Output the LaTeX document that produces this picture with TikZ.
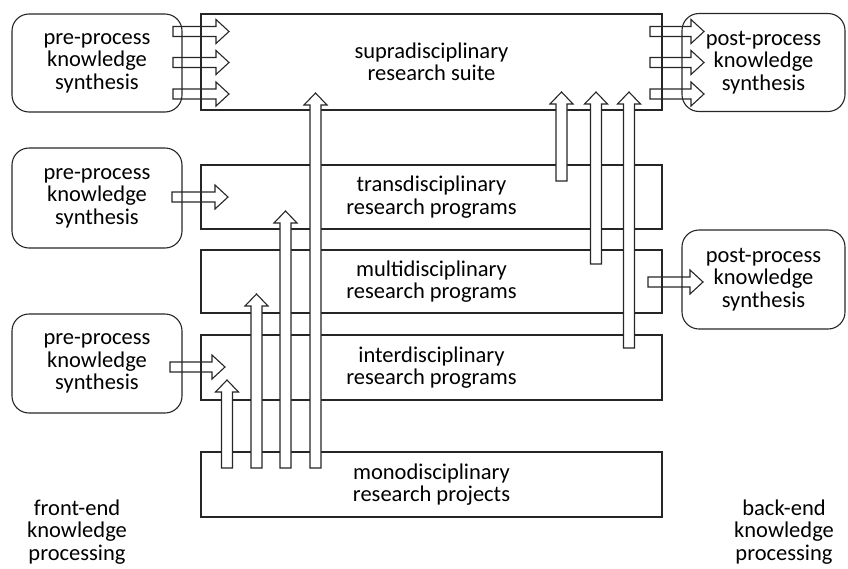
\documentclass[tikz,border=0pt]{standalone}
\usepackage{fontspec}
\setmainfont{Carlito}
\usetikzlibrary{calc}

\tikzset{
	ebene/.style={
		draw=black!85,
		line width=1.1pt,
		minimum width=461pt,
		align=center,
		inner sep=0pt
	},
	synthese/.style={
		draw=black!85,
		line width=1.1pt,
		rounded corners=17pt,
		align=center,
		inner sep=0pt
	},
	hpfeil/.style={
		draw=black!85,
		line width=1.1pt
	},
	vpfeil/.style={
		draw=black!85,
		line width=1.1pt,
		fill=white
	}
}

% Blockpfeil nach rechts
\newcommand{\pfeilrechts}[2]{%
	\draw[hpfeil] let \p1=(#1), \p2=(#2) in
		(\x1,\y1-5pt) -- (\x2-13pt,\y1-5pt) -- (\x2-13pt,\y1-12pt) -- (\x2,\y1) --
		(\x2-13pt,\y1+12pt) -- (\x2-13pt,\y1+5pt) -- (\x1,\y1+5pt) -- cycle;
}
% Blockpfeil nach oben
\newcommand{\pfeilhoch}[2]{%
	\draw[vpfeil] let \p1=(#1), \p2=(#2) in
		(\x1-5.5pt,\y1) -- (\x1-5.5pt,\y2-12pt) -- (\x1-11.5pt,\y2-12pt) -- (\x1,\y2) --
		(\x1+11.5pt,\y2-12pt) -- (\x1+5.5pt,\y2-12pt) -- (\x1+5.5pt,\y1) -- cycle;
}

\begin{document}
\begin{tikzpicture}[
	x=1pt,
	y=-1pt,
	font=\fontsize{22.5}{22.5}\selectfont
]
	\useasboundingbox (0,0) rectangle (848,568);
	% Ebenen
	\node[
		ebene,
		minimum height=96pt
	] (supra) at (431.5,62) {supradisciplinary\\research suite};
	\node[
		ebene,
		minimum height=64pt
	] (trans) at (431.5,197) {transdisciplinary\\research programs};
	\node[
		ebene,
		minimum height=63pt
	] (multi) at (431.5,281.5) {multidisciplinary\\research programs};
	\node[
		ebene,
		minimum height=65pt
	] (inter) at (431.5,367.5) {interdisciplinary\\research programs};
	\node[
		ebene,
		minimum height=65pt
	] (mono) at (431.5,484.5) {monodisciplinary\\research projects};
	% Synthese vorne
	\node[
		synthese,
		minimum width=170pt,
		minimum height=98pt
	] (vorne1) at (97,63) {pre-process\\knowledge\\synthesis};
	\node[
		synthese,
		minimum width=170pt,
		minimum height=100pt
	] (vorne2) at (97,198) {pre-process\\knowledge\\synthesis};
	\node[
		synthese,
		minimum width=170pt,
		minimum height=99pt
	] (vorne3) at (97,363.5) {pre-process\\knowledge\\synthesis};
	% Synthese hinten
	\node[
		synthese,
		minimum width=163pt,
		minimum height=98pt
	] (hinten1) at (763.5,62.5) {post-process\\knowledge\\synthesis};
	\node[
		synthese,
		minimum width=163pt,
		minimum height=99pt
	] (hinten2) at (763.5,279.5) {post-process\\knowledge\\synthesis};
	% Beschriftung unten
	\node[
		align=center
	] (frontend) at (77,532) {front-end\\knowledge\\processing};
	\node[
		align=center
	] (backend) at (784,532) {back-end\\knowledge\\processing};
	% Pfeilenden
	\coordinate (v1a) at (173,31.5);
	\coordinate (v1b) at (229,31.5);
	\coordinate (v2a) at (173,62.5);
	\coordinate (v2b) at (229,62.5);
	\coordinate (v3a) at (173,94);
	\coordinate (v3b) at (229,94);
	\coordinate (v4a) at (172,197);
	\coordinate (v4b) at (228,197);
	\coordinate (v5a) at (170,367);
	\coordinate (v5b) at (225,367);
	\coordinate (h1a) at (650,31.5);
	\coordinate (h1b) at (704,31.5);
	\coordinate (h2a) at (650,62.5);
	\coordinate (h2b) at (704,62.5);
	\coordinate (h3a) at (650,94);
	\coordinate (h3b) at (704,94);
	\coordinate (h4a) at (648,282);
	\coordinate (h4b) at (703,282);
	% Pfeile vorne und hinten
	\pfeilrechts{v1a}{v1b}
	\pfeilrechts{v2a}{v2b}
	\pfeilrechts{v3a}{v3b}
	\pfeilrechts{v4a}{v4b}
	\pfeilrechts{v5a}{v5b}
	\pfeilrechts{h1a}{h1b}
	\pfeilrechts{h2a}{h2b}
	\pfeilrechts{h3a}{h3b}
	\pfeilrechts{h4a}{h4b}
	% Pfeile aus mono
	\coordinate (m1a) at (227,468);
	\coordinate (m1b) at (227,380);
	\coordinate (m2a) at (256.5,468);
	\coordinate (m2b) at (256.5,294);
	\coordinate (m3a) at (285.5,468);
	\coordinate (m3b) at (285.5,211);
	\coordinate (m4a) at (315.5,468);
	\coordinate (m4b) at (315.5,93);
	\pfeilhoch{m1a}{m1b}
	\pfeilhoch{m2a}{m2b}
	\pfeilhoch{m3a}{m3b}
	\pfeilhoch{m4a}{m4b}
	% Pfeile zur supra-Ebene
	\coordinate (s1a) at (561.5,181);
	\coordinate (s1b) at (561.5,92);
	\coordinate (s2a) at (596,264);
	\coordinate (s2b) at (596,92);
	\coordinate (s3a) at (629,348);
	\coordinate (s3b) at (629,92);
	\pfeilhoch{s1a}{s1b}
	\pfeilhoch{s2a}{s2b}
	\pfeilhoch{s3a}{s3b}

\end{tikzpicture}
\end{document}
